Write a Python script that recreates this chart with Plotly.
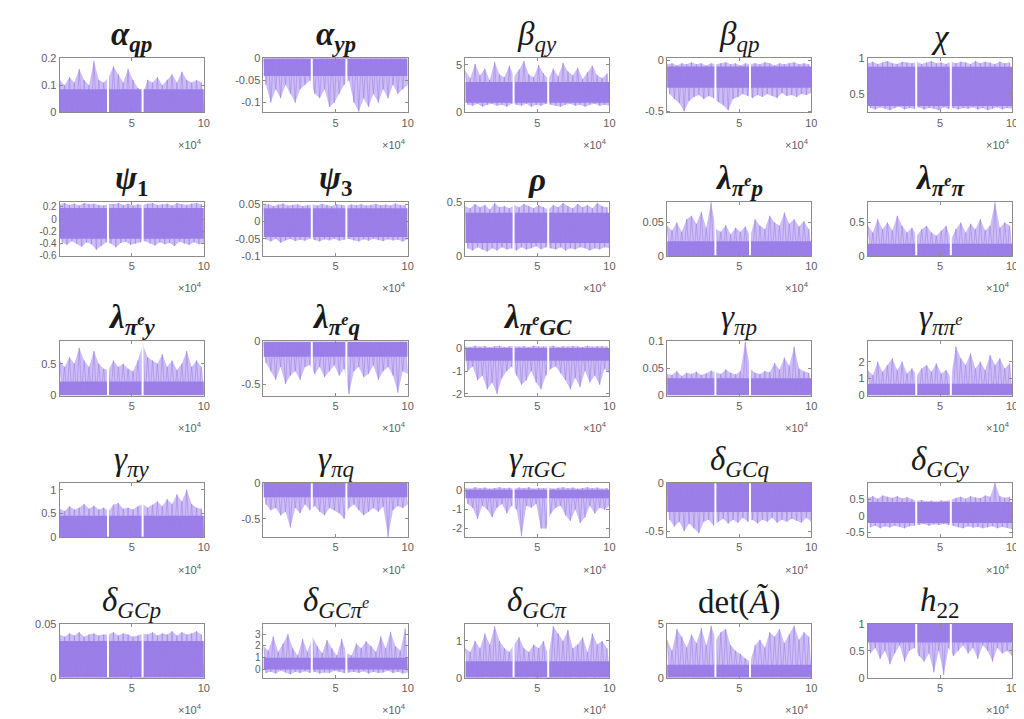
import numpy as np
import plotly.graph_objects as go

# ---------------- data ----------------
N_DRAWS = 100000
GAPS = [33500, 57500]          # positions of the white breaks in every chain

TITLES = [
    "<b><i>α</i><sub><i>qp</i></sub></b>", "<b><i>α</i><sub><i>yp</i></sub></b>",
    "<i>β</i><sub><i>qy</i></sub>", "<i>β</i><sub><i>qp</i></sub>", "<i>χ</i>",
    "<b><i>ψ</i><sub>1</sub></b>", "<b><i>ψ</i><sub>3</sub></b>", "<b><i>ρ</i></b>",
    "<b><i>λ</i><sub><i>π<sup>e</sup>p</i></sub></b>", "<b><i>λ</i><sub><i>π<sup>e</sup>π</i></sub></b>",
    "<b><i>λ</i><sub><i>π<sup>e</sup>y</i></sub></b>", "<b><i>λ</i><sub><i>π<sup>e</sup>q</i></sub></b>",
    "<b><i>λ</i><sub><i>π<sup>e</sup>GC</i></sub></b>", "<i>γ</i><sub><i>πp</i></sub>",
    "<i>γ</i><sub><i>ππ<sup>e</sup></i></sub>",
    "<i>γ</i><sub><i>πy</i></sub>", "<i>γ</i><sub><i>πq</i></sub>", "<i>γ</i><sub><i>πGC</i></sub>",
    "<i>δ</i><sub><i>GCq</i></sub>", "<i>δ</i><sub><i>GCy</i></sub>",
    "<i>δ</i><sub><i>GCp</i></sub>", "<i>δ</i><sub><i>GCπ<sup>e</sup></i></sub>",
    "<i>δ</i><sub><i>GCπ</i></sub>", "det(<i>Ã</i>)", "<i>h</i><sub>22</sub>",
]

Y_RANGES = [[0, 0.2], [-0.122, 0], [0, 5.7], [-0.51, 0.02], [0.24, 1.0],
            [-0.6, 0.28], [-0.1, 0.057], [0, 0.5], [0, 0.081], [0, 0.81],
            [0, 0.85], [-0.635, 0], [-2.07, 0.29], [0, 0.1], [0, 3.2],
            [0, 1.14], [-0.755, 0], [-2.45, 0.4], [-0.56, 0], [-0.65, 1.0],
            [0, 0.05], [-0.7, 3.9], [0, 1.47], [0, 5], [0, 1]]

Y_TICKS = [[0, 0.1, 0.2], [-0.1, -0.05, 0], [0, 5], [-0.5, 0], [0.5, 1],
           [-0.6, -0.4, -0.2, 0, 0.2], [-0.1, -0.05, 0, 0.05], [0, 0.5], [0, 0.05], [0, 0.5],
           [0, 0.5], [-0.5, 0], [-2, -1, 0], [0, 0.05, 0.1], [0, 1, 2],
           [0, 0.5, 1], [-0.5, 0], [-2, -1, 0], [-0.5, 0], [-0.5, 0, 0.5],
           [0, 0.05], [0, 1, 2, 3], [0, 1], [0, 5], [0, 0.5, 1]]

X_TICKS = [50000, 100000]
X_TICKTEXT = ["5", "10"]

# dense central part of each chain: (low, high)
CORE = [(0, 0.085), (-0.04, 0), (1.0, 3.2), (-0.27, -0.06), (0.33, 0.88),
        (-0.32, 0.18), (-0.045, 0.038), (0.12, 0.40), (0, 0.022), (0, 0.18),
        (0, 0.22), (-0.18, 0), (-0.55, 0.0), (0, 0.032), (0, 0.7),
        (0, 0.45), (-0.2, 0), (-0.4, 0.05), (-0.30, 0), (-0.22, 0.42),
        (0, 0.034), (0.0, 1.0), (0, 0.45), (0.0, 1.2), (0.65, 1.0)]

# upper / lower extremes of each chain, read at 30 positions along the run
hi_alpha_qp = [0.12,0.10,0.13,0.11,0.16,0.12,0.10,0.19,0.12,0.11,0.13,0.17,0.14,0.11,0.16,0.12,0.09,0.07,0.12,0.11,0.13,0.10,0.12,0.14,0.11,0.15,0.12,0.11,0.12,0.11]
lo_alpha_qp = [0.002,0.001,0.003,0.001,0.002,0.001,0.002,0.003,0.001,0.002,0.001,0.002,0.003,0.001,0.002,0.001,0.002,0.001,0.003,0.002,0.001,0.002,0.001,0.003,0.002,0.001,0.002,0.001,0.002,0.001]
hi_alpha_yp = [-0.001,-0.002,-0.001,-0.001,-0.002,-0.001,-0.002,-0.001,-0.001,-0.002,-0.001,-0.002,-0.001,-0.001,-0.002,-0.001,-0.002,-0.001,-0.001,-0.002,-0.001,-0.001,-0.002,-0.001,-0.002,-0.001,-0.001,-0.002,-0.001,-0.001]
lo_alpha_yp = [-0.06,-0.10,-0.07,-0.09,-0.06,-0.08,-0.10,-0.07,-0.06,-0.05,-0.08,-0.09,-0.07,-0.11,-0.10,-0.08,-0.06,-0.05,-0.10,-0.12,-0.09,-0.11,-0.08,-0.10,-0.07,-0.09,-0.06,-0.08,-0.07,-0.06]
hi_beta_qy = [4.4,3.6,5.1,3.9,4.6,3.4,5.3,4.0,3.7,4.9,3.8,4.5,5.4,4.0,3.7,5.0,4.1,3.5,4.6,3.8,5.2,4.3,3.9,4.7,3.5,4.2,4.9,3.9,3.6,4.1]
lo_beta_qy = [0.8,0.7,0.9,0.6,0.8,0.9,0.7,0.8,0.6,0.9,0.8,0.7,0.9,0.6,0.8,0.7,0.9,0.8,0.7,0.6,0.8,0.9,0.7,0.8,0.6,0.8,0.9,0.7,0.8,0.7]
hi_beta_qp = [-0.04,-0.03,-0.05,-0.03,-0.04,-0.02,-0.04,-0.03,-0.05,-0.03,-0.04,-0.03,-0.02,-0.04,-0.03,-0.05,-0.03,-0.04,-0.03,-0.04,-0.02,-0.03,-0.05,-0.03,-0.04,-0.03,-0.02,-0.04,-0.03,-0.04]
lo_beta_qp = [-0.33,-0.38,-0.42,-0.50,-0.40,-0.36,-0.34,-0.38,-0.35,-0.37,-0.41,-0.44,-0.49,-0.38,-0.36,-0.33,-0.35,-0.37,-0.34,-0.36,-0.33,-0.35,-0.37,-0.32,-0.35,-0.34,-0.36,-0.33,-0.34,-0.32]
hi_chi = [0.93,0.95,0.92,0.94,0.96,0.93,0.92,0.95,0.94,0.93,0.95,0.92,0.94,0.96,0.93,0.94,0.92,0.95,0.93,0.95,0.94,0.92,0.96,0.93,0.95,0.94,0.92,0.95,0.93,0.94]
lo_chi = [0.30,0.28,0.31,0.29,0.27,0.30,0.32,0.28,0.30,0.29,0.31,0.28,0.30,0.29,0.27,0.31,0.29,0.30,0.28,0.30,0.29,0.31,0.28,0.30,0.27,0.29,0.31,0.28,0.30,0.29]
hi_psi1 = [0.24,0.26,0.23,0.25,0.22,0.26,0.24,0.25,0.23,0.22,0.25,0.24,0.26,0.23,0.25,0.22,0.24,0.23,0.25,0.26,0.23,0.24,0.25,0.22,0.26,0.24,0.23,0.25,0.26,0.24]
lo_psi1 = [-0.38,-0.42,-0.36,-0.40,-0.45,-0.38,-0.41,-0.50,-0.44,-0.38,-0.40,-0.46,-0.39,-0.37,-0.42,-0.40,-0.38,-0.36,-0.40,-0.43,-0.38,-0.41,-0.39,-0.44,-0.37,-0.40,-0.42,-0.38,-0.41,-0.39]
hi_psi3 = [0.047,0.050,0.045,0.049,0.052,0.046,0.048,0.050,0.045,0.047,0.049,0.046,0.051,0.048,0.045,0.050,0.047,0.046,0.049,0.047,0.050,0.046,0.048,0.051,0.047,0.049,0.046,0.052,0.048,0.047]
lo_psi3 = [-0.052,-0.058,-0.050,-0.062,-0.055,-0.051,-0.057,-0.053,-0.056,-0.050,-0.054,-0.058,-0.052,-0.055,-0.050,-0.056,-0.053,-0.051,-0.055,-0.058,-0.052,-0.056,-0.050,-0.054,-0.057,-0.052,-0.055,-0.053,-0.058,-0.052]
hi_rho = [0.46,0.44,0.48,0.45,0.47,0.43,0.49,0.45,0.46,0.44,0.47,0.45,0.48,0.46,0.44,0.47,0.45,0.43,0.47,0.45,0.49,0.46,0.44,0.48,0.45,0.47,0.44,0.49,0.46,0.45]
lo_rho = [0.07,0.05,0.08,0.06,0.04,0.07,0.05,0.08,0.06,0.07,0.05,0.08,0.06,0.07,0.09,0.06,0.08,0.07,0.06,0.08,0.05,0.07,0.06,0.08,0.07,0.05,0.07,0.06,0.08,0.07]
hi_lam_p = [0.045,0.038,0.050,0.036,0.055,0.060,0.048,0.066,0.042,0.080,0.040,0.036,0.046,0.032,0.042,0.036,0.044,0.030,0.055,0.045,0.040,0.060,0.050,0.045,0.065,0.048,0.055,0.044,0.052,0.040]
lo_lam_p = [0.001,0.002,0.001,0.001,0.002,0.001,0.001,0.002,0.001,0.001,0.002,0.001,0.001,0.002,0.001,0.001,0.002,0.001,0.001,0.002,0.001,0.001,0.002,0.001,0.001,0.002,0.001,0.001,0.002,0.001]
hi_lam_pi = [0.45,0.35,0.55,0.40,0.50,0.38,0.60,0.45,0.35,0.42,0.30,0.40,0.45,0.35,0.30,0.38,0.45,0.25,0.40,0.50,0.35,0.48,0.40,0.55,0.38,0.45,0.80,0.42,0.50,0.45]
lo_lam_pi = [0.01,0.02,0.01,0.01,0.02,0.01,0.01,0.02,0.01,0.01,0.02,0.01,0.01,0.02,0.01,0.01,0.02,0.01,0.01,0.02,0.01,0.01,0.02,0.01,0.01,0.02,0.01,0.01,0.02,0.01]
hi_lam_y = [0.55,0.45,0.60,0.50,0.75,0.55,0.45,0.70,0.50,0.42,0.40,0.55,0.45,0.50,0.42,0.38,0.55,0.80,0.60,0.55,0.50,0.65,0.45,0.55,0.40,0.50,0.70,0.45,0.55,0.45]
lo_lam_y = [0.01,0.02,0.01,0.01,0.02,0.01,0.01,0.02,0.01,0.01,0.02,0.01,0.01,0.02,0.01,0.01,0.02,0.01,0.01,0.02,0.01,0.01,0.02,0.01,0.01,0.02,0.01,0.01,0.02,0.01]
hi_lam_q = [-0.005,-0.003,-0.004,-0.005,-0.003,-0.004,-0.005,-0.003,-0.004,-0.005,-0.003,-0.004,-0.005,-0.003,-0.004,-0.005,-0.003,-0.004,-0.005,-0.003,-0.004,-0.005,-0.003,-0.004,-0.005,-0.003,-0.004,-0.005,-0.003,-0.004]
lo_lam_q = [-0.25,-0.35,-0.45,-0.30,-0.50,-0.40,-0.35,-0.45,-0.30,-0.28,-0.38,-0.30,-0.42,-0.35,-0.28,-0.40,-0.32,-0.62,-0.35,-0.30,-0.42,-0.38,-0.28,-0.45,-0.35,-0.30,-0.40,-0.60,-0.35,-0.38]
hi_lam_gc = [0.08,0.05,0.10,0.06,0.09,0.04,0.08,0.10,0.05,0.07,0.09,0.06,0.08,0.05,0.10,0.07,0.06,0.08,0.10,0.05,0.08,0.06,0.09,0.07,0.05,0.10,0.06,0.08,0.09,0.07]
lo_lam_gc = [-1.0,-0.8,-1.4,-1.2,-1.8,-1.5,-2.0,-1.3,-1.0,-0.8,-1.2,-1.6,-1.4,-1.0,-1.5,-1.8,-1.2,-0.9,-0.8,-1.1,-1.4,-1.8,-1.3,-1.7,-1.0,-1.5,-1.2,-1.6,-0.9,-1.1]
hi_gam_p = [0.040,0.038,0.045,0.036,0.042,0.040,0.044,0.038,0.041,0.046,0.043,0.040,0.048,0.042,0.039,0.045,0.100,0.050,0.042,0.040,0.045,0.043,0.060,0.048,0.070,0.055,0.090,0.050,0.045,0.042]
lo_gam_p = [0.001,0.002,0.001,0.001,0.002,0.001,0.001,0.002,0.001,0.001,0.002,0.001,0.001,0.002,0.001,0.001,0.002,0.001,0.001,0.002,0.001,0.001,0.002,0.001,0.001,0.002,0.001,0.001,0.002,0.001]
hi_gam_pie = [1.5,1.2,2.0,1.4,1.8,2.2,1.5,2.0,1.3,1.6,1.2,1.6,1.8,1.4,1.9,1.3,1.5,1.1,2.9,2.2,1.8,2.5,1.6,2.0,1.5,2.4,1.8,2.2,1.6,1.9]
lo_gam_pie = [0.02,0.03,0.02,0.02,0.03,0.02,0.02,0.03,0.02,0.02,0.03,0.02,0.02,0.03,0.02,0.02,0.03,0.02,0.02,0.03,0.02,0.02,0.03,0.02,0.02,0.03,0.02,0.02,0.03,0.02]
hi_gam_y = [0.60,0.55,0.65,0.58,0.62,0.70,0.60,0.66,0.58,0.62,0.55,0.68,0.72,0.60,0.62,0.58,0.65,0.70,0.62,0.68,0.75,0.65,0.80,0.70,0.90,0.75,1.00,0.70,0.62,0.60]
lo_gam_y = [0.01,0.02,0.01,0.01,0.02,0.01,0.01,0.02,0.01,0.01,0.02,0.01,0.01,0.02,0.01,0.01,0.02,0.01,0.01,0.02,0.01,0.01,0.02,0.01,0.01,0.02,0.01,0.01,0.02,0.01]
hi_gam_q = [-0.005,-0.003,-0.004,-0.005,-0.003,-0.004,-0.005,-0.003,-0.004,-0.005,-0.003,-0.004,-0.005,-0.003,-0.004,-0.005,-0.003,-0.004,-0.005,-0.003,-0.004,-0.005,-0.003,-0.004,-0.005,-0.003,-0.004,-0.005,-0.003,-0.004]
lo_gam_q = [-0.30,-0.38,-0.35,-0.45,-0.40,-0.62,-0.35,-0.42,-0.30,-0.38,-0.32,-0.40,-0.45,-0.35,-0.38,-0.42,-0.50,-0.35,-0.30,-0.38,-0.45,-0.40,-0.35,-0.40,-0.33,-0.75,-0.38,-0.32,-0.35,-0.30]
hi_gam_gc = [0.15,0.10,0.18,0.12,0.16,0.10,0.14,0.18,0.12,0.15,0.10,0.16,0.12,0.18,0.10,0.14,0.12,0.16,0.10,0.15,0.18,0.12,0.16,0.10,0.14,0.18,0.12,0.16,0.10,0.14]
lo_gam_gc = [-0.7,-0.9,-1.5,-0.8,-1.0,-1.4,-0.9,-0.7,-1.2,-0.8,-1.0,-2.4,-0.8,-0.9,-0.7,-2.0,-2.0,-1.2,-0.9,-0.8,-1.3,-1.6,-1.0,-1.7,-1.4,-0.8,-1.2,-0.9,-1.0,-0.8]
hi_del_q = [-0.003,-0.002,-0.003,-0.002,-0.003,-0.002,-0.003,-0.002,-0.003,-0.002,-0.003,-0.002,-0.003,-0.002,-0.003,-0.002,-0.003,-0.002,-0.003,-0.002,-0.003,-0.002,-0.003,-0.002,-0.003,-0.002,-0.003,-0.002,-0.003,-0.002]
lo_del_q = [-0.38,-0.45,-0.40,-0.50,-0.42,-0.47,-0.52,-0.40,-0.38,-0.44,-0.40,-0.37,-0.42,-0.38,-0.41,-0.36,-0.40,-0.38,-0.42,-0.38,-0.40,-0.36,-0.41,-0.38,-0.40,-0.37,-0.39,-0.41,-0.36,-0.40]
hi_del_y = [0.55,0.60,0.52,0.62,0.58,0.55,0.60,0.53,0.57,0.50,0.45,0.48,0.44,0.46,0.43,0.47,0.45,0.50,0.55,0.58,0.52,0.60,0.56,0.54,0.62,0.58,1.00,0.60,0.55,0.58]
lo_del_y = [-0.35,-0.30,-0.38,-0.32,-0.36,-0.30,-0.34,-0.38,-0.32,-0.30,-0.28,-0.25,-0.30,-0.26,-0.28,-0.25,-0.27,-0.30,-0.35,-0.38,-0.32,-0.36,-0.34,-0.38,-0.35,-0.32,-0.38,-0.34,-0.36,-0.40]
hi_del_p = [0.040,0.038,0.041,0.039,0.042,0.038,0.040,0.041,0.039,0.040,0.040,0.042,0.039,0.041,0.040,0.038,0.039,0.041,0.040,0.042,0.039,0.041,0.040,0.043,0.039,0.042,0.040,0.041,0.043,0.040]
lo_del_p = [0.0005,0.0008,0.0005,0.0006,0.0008,0.0005,0.0006,0.0008,0.0005,0.0006,0.0008,0.0005,0.0006,0.0008,0.0005,0.0006,0.0008,0.0005,0.0006,0.0008,0.0005,0.0006,0.0008,0.0005,0.0006,0.0008,0.0005,0.0006,0.0008,0.0005]
hi_del_pie = [2.0,1.6,2.8,1.5,2.2,3.0,1.8,1.2,2.6,1.5,2.8,2.0,1.4,2.5,1.8,1.2,2.6,1.4,1.2,2.2,1.8,2.4,2.0,1.5,2.8,1.8,3.2,2.0,1.6,3.5]
lo_del_pie = [-0.3,-0.2,-0.35,-0.1,-0.25,-0.4,-0.2,-0.3,-0.15,-0.3,-0.2,-0.35,-0.25,-0.3,-0.1,-0.2,-0.3,-0.25,-0.2,-0.3,-0.15,-0.35,-0.2,-0.3,-0.25,-0.1,-0.3,-0.2,-0.35,-0.25]
hi_del_pi = [0.8,0.7,1.0,0.8,1.2,0.9,1.4,1.0,0.8,0.7,0.9,1.1,0.8,0.7,0.9,0.8,1.0,0.6,1.4,1.2,1.0,1.3,0.8,0.9,1.1,0.7,1.2,0.9,1.0,0.8]
lo_del_pi = [0.01,0.02,0.01,0.01,0.02,0.01,0.01,0.02,0.01,0.01,0.02,0.01,0.01,0.02,0.01,0.01,0.02,0.01,0.01,0.02,0.01,0.01,0.02,0.01,0.01,0.02,0.01,0.01,0.02,0.01]
hi_det = [3.5,2.5,4.5,3.8,2.8,4.0,3.2,4.6,3.0,4.8,3.5,4.2,4.5,3.0,2.5,2.2,1.8,1.5,3.0,3.5,2.8,4.2,3.8,4.5,3.2,4.0,4.8,3.5,4.2,3.8]
lo_det = [0.05,0.08,0.05,0.06,0.08,0.05,0.06,0.08,0.05,0.06,0.08,0.05,0.06,0.08,0.05,0.06,0.08,0.05,0.06,0.08,0.05,0.06,0.08,0.05,0.06,0.08,0.05,0.06,0.08,0.05]
hi_h22 = [0.995,0.997,0.995,0.996,0.997,0.995,0.996,0.997,0.995,0.996,0.997,0.995,0.996,0.997,0.995,0.996,0.997,0.995,0.996,0.997,0.995,0.996,0.997,0.995,0.996,0.997,0.995,0.996,0.997,0.995]
lo_h22 = [0.45,0.55,0.35,0.50,0.25,0.45,0.60,0.30,0.50,0.55,0.40,0.30,0.45,0.10,0.50,0.05,0.55,0.40,0.50,0.60,0.45,0.55,0.35,0.60,0.50,0.30,0.55,0.45,0.50,0.40]

HI = [hi_alpha_qp, hi_alpha_yp, hi_beta_qy, hi_beta_qp, hi_chi,
      hi_psi1, hi_psi3, hi_rho, hi_lam_p, hi_lam_pi,
      hi_lam_y, hi_lam_q, hi_lam_gc, hi_gam_p, hi_gam_pie,
      hi_gam_y, hi_gam_q, hi_gam_gc, hi_del_q, hi_del_y,
      hi_del_p, hi_del_pie, hi_del_pi, hi_det, hi_h22]
LO = [lo_alpha_qp, lo_alpha_yp, lo_beta_qy, lo_beta_qp, lo_chi,
      lo_psi1, lo_psi3, lo_rho, lo_lam_p, lo_lam_pi,
      lo_lam_y, lo_lam_q, lo_lam_gc, lo_gam_p, lo_gam_pie,
      lo_gam_y, lo_gam_q, lo_gam_gc, lo_del_q, lo_del_y,
      lo_del_p, lo_del_pie, lo_del_pi, lo_det, lo_h22]

# ---------------- layout geometry (pixels) ----------------
W, H = 1024, 719
COL_LEFT = [52, 257, 460, 663, 865]
BOX_W = 145
ROW_TOP = [45, 191, 333, 477, 620]
BOX_H = 55
TIGHT_TICKS = {5, 21}          # panels whose tick labels are crowded

PURPLE = "rgb(155,126,232)"
PURPLE_LIGHT = "rgba(162,135,236,0.55)"
PURPLE_LINE = "rgba(155,126,232,0.75)"
AXIS_COL = "#8c8c8c"


def tick_font(size):
    return dict(family="Liberation Sans, Arial, sans-serif", size=size, color="#606060")


def fmt(v):
    return ("%g" % v)


fig = go.Figure()
annotations = []
layout = {}

for k in range(25):
    r, c = divmod(k, 5)
    ax = "" if k == 0 else str(k + 1)
    xref, yref = "x" + ax, "y" + ax
    hi, lo = HI[k], LO[k]
    n = len(hi)
    xs = np.linspace(0, N_DRAWS, 2 * n)
    x_hi, x_lo = xs[0::2], xs[1::2]

    # envelope of the chain
    fig.add_trace(go.Scatter(
        x=list(x_hi) + list(x_lo[::-1]), y=list(hi) + list(lo[::-1]),
        fill="toself", fillcolor=PURPLE_LIGHT, mode="lines", line=dict(width=0),
        hoverinfo="skip", showlegend=False, xaxis=xref, yaxis=yref))
    # dense core
    clo, chi = CORE[k]
    fig.add_trace(go.Scatter(
        x=[xs[0], xs[-1], xs[-1], xs[0]], y=[clo, clo, chi, chi],
        fill="toself", fillcolor=PURPLE, mode="lines", line=dict(width=0),
        hoverinfo="skip", showlegend=False, xaxis=xref, yaxis=yref))
    # the trace itself, alternating between extremes
    ys = [v for pair in zip(hi, lo) for v in pair]
    fig.add_trace(go.Scatter(
        x=xs, y=ys, mode="lines", line=dict(color=PURPLE_LINE, width=0.7),
        hoverinfo="skip", showlegend=False, xaxis=xref, yaxis=yref))
    # breaks in the chain
    gx, gy = [], []
    for g in GAPS:
        gx += [g, g, None]
        gy += [min(lo), max(hi), None]
    fig.add_trace(go.Scatter(
        x=gx, y=gy, mode="lines", line=dict(color="white", width=2),
        hoverinfo="skip", showlegend=False, xaxis=xref, yaxis=yref))

    left, top = COL_LEFT[c], ROW_TOP[r]
    xdom = [left / W, (left + BOX_W) / W]
    ydom = [1 - (top + BOX_H) / H, 1 - top / H]
    common = dict(showline=True, linecolor=AXIS_COL, linewidth=1, mirror="ticks",
                  ticks="inside", ticklen=3, tickcolor=AXIS_COL, showgrid=False,
                  zeroline=False, fixedrange=True)
    layout["xaxis" + ax] = dict(domain=xdom, range=[0, N_DRAWS], anchor=yref,
                                tickvals=X_TICKS, ticktext=X_TICKTEXT,
                                tickfont=tick_font(11), **common)
    layout["yaxis" + ax] = dict(domain=ydom, range=Y_RANGES[k], anchor=xref,
                                tickvals=Y_TICKS[k], ticktext=[fmt(v) for v in Y_TICKS[k]],
                                tickfont=tick_font(10 if k in TIGHT_TICKS else 11),
                                **common)

    annotations.append(dict(
        text=TITLES[k], xref="paper", yref="paper",
        x=(left + BOX_W / 2) / W, y=1 - (top - 22) / H,
        xanchor="center", yanchor="middle", showarrow=False,
        font=dict(family="Liberation Serif, Times New Roman, serif", size=33, color="#1a1a1a")))
    annotations.append(dict(
        text="×10<sup>4</sup>", xref="paper", yref="paper",
        x=(left + BOX_W) / W, y=1 - (top + BOX_H + 32) / H,
        xanchor="right", yanchor="middle", showarrow=False,
        font=dict(family="Liberation Sans, Arial, sans-serif", size=11, color="#606060")))

fig.update_layout(width=W, height=H, margin=dict(l=0, r=0, t=0, b=0),
                  paper_bgcolor="white", plot_bgcolor="white",
                  annotations=annotations, **layout)

fig.write_html("out.html")
